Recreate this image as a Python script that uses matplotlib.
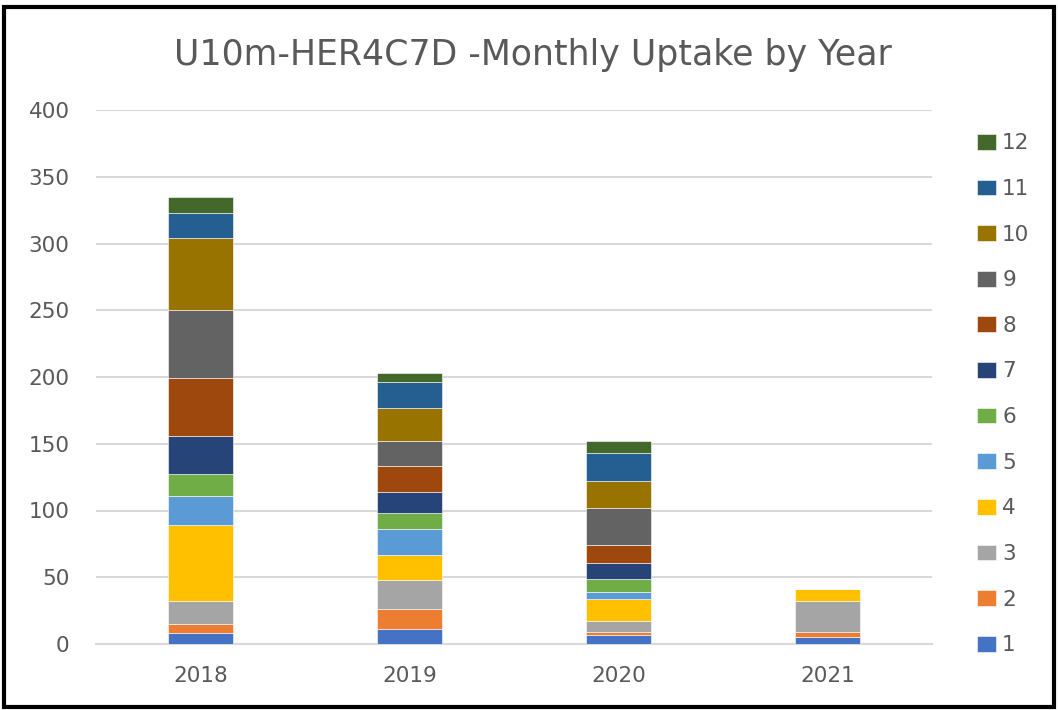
import matplotlib.pyplot as plt
from matplotlib.patches import Rectangle
import numpy as np

years = ['2018', '2019', '2020', '2021']
months = [str(m) for m in range(1, 13)]

# monthly uptake per year, one list per month (values for 2018..2021)
m1 = [8, 11, 7, 5]
m2 = [7, 15, 2, 4]
m3 = [17, 22, 8, 23]
m4 = [57, 19, 17, 9]
m5 = [22, 19, 5, 0]
m6 = [16, 12, 10, 0]
m7 = [29, 16, 12, 0]
m8 = [43, 19, 13, 0]
m9 = [51, 19, 28, 0]
m10 = [54, 25, 20, 0]
m11 = [19, 19, 21, 0]
m12 = [12, 7, 9, 0]
series = [m1, m2, m3, m4, m5, m6, m7, m8, m9, m10, m11, m12]

colors = ['#4472C4', '#ED7D31', '#A5A5A5', '#FFC000', '#5B9BD5', '#70AD47',
          '#264478', '#9E480E', '#636363', '#997300', '#255E91', '#43682B']

fig = plt.figure(figsize=(10.58, 7.10), dpi=100)
ax = fig.add_axes([96 / 1058, 1 - 644 / 710, (932 - 96) / 1058, (644 - 110) / 710])

x = np.arange(len(years))
bottom = np.zeros(len(years))
handles = []
for vals, c, lab in zip(series, colors, months):
    b = ax.bar(x, vals, 0.315, bottom=bottom, color=c, label=lab,
               edgecolor='white', linewidth=0.4, zorder=3)
    handles.append(b)
    bottom += np.array(vals)

ax.set_xlim(-0.5, 3.5)
ax.set_ylim(0, 400)
ax.set_yticks(range(0, 401, 50))
ax.set_xticks(x)
ax.set_xticklabels(years)
ax.yaxis.grid(True, color='#D9D9D9', linewidth=1.5, zorder=0)
ax.tick_params(axis='both', length=0, labelsize=15.5, colors='#595959')
ax.tick_params(axis='y', pad=19)
ax.tick_params(axis='x', pad=16)
for s in ['top', 'right', 'left']:
    ax.spines[s].set_visible(False)
ax.spines['bottom'].set_color('#D9D9D9')
ax.spines['bottom'].set_linewidth(1.5)

fig.text(533 / 1058, 1 - 55 / 710, 'U10m-HER4C7D -Monthly Uptake by Year',
         ha='center', va='center', fontsize=25, color='#595959')

leg = fig.legend(handles[::-1], months[::-1], loc='upper left',
                 bbox_to_anchor=(958 / 1058, 1 - 114 / 710), frameon=False,
                 fontsize=15.5, labelcolor='#595959', handlelength=0.85,
                 handleheight=0.75, handletextpad=0.3, labelspacing=1.19)

fig.add_artist(Rectangle((0.004, 0.004), 0.992, 0.986, transform=fig.transFigure,
                         fill=False, edgecolor='black', linewidth=3))

fig.savefig('out.png', dpi=100)
